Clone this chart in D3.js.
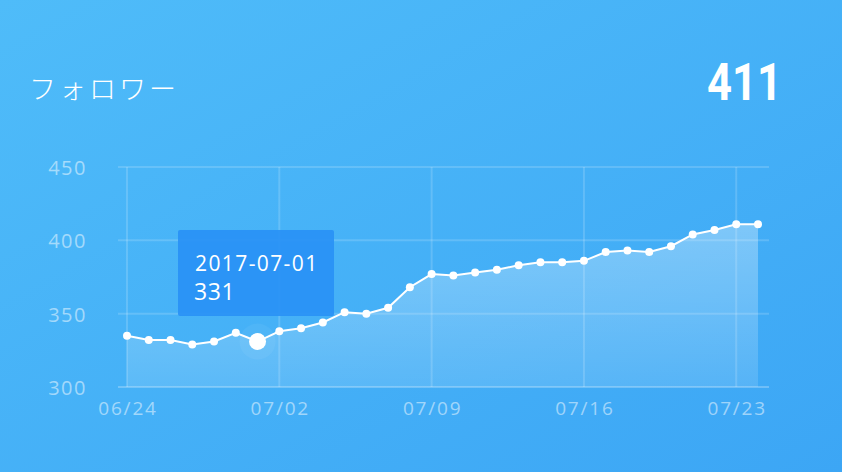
<!DOCTYPE html>
<html><head><meta charset="utf-8">
<script src="https://cdn.jsdelivr.net/npm/d3@7"></script>
<style>html,body{margin:0;padding:0;overflow:hidden;}svg{display:block;}</style>
</head><body>
<script>
const dates = ["2017-06-25","2017-06-26","2017-06-27","2017-06-28","2017-06-29","2017-06-30","2017-07-01","2017-07-02","2017-07-03","2017-07-04","2017-07-05","2017-07-06","2017-07-07","2017-07-08","2017-07-09","2017-07-10","2017-07-11","2017-07-12","2017-07-13","2017-07-14","2017-07-15","2017-07-16","2017-07-17","2017-07-18","2017-07-19","2017-07-20","2017-07-21","2017-07-22","2017-07-23","2017-07-24"];
const followers = [335,332,332,329,331,337,331,338,340,344,351,350,354,368,377,376,378,380,383,385,385,386,392,393,392,396,404,407,411,411];
const xTickIndex = [0,7,14,21,28];
const xTickLabels = ["06/24","07/02","07/09","07/16","07/23"];
const yTicks = [300,350,400,450];
const title = "フォロワー";
const total = "411";
const tooltipIndex = 6;

const W = 842, H = 472;
const svg = d3.select("body").append("svg").attr("width", W).attr("height", H);
const defs = svg.append("defs");
const bg = defs.append("linearGradient").attr("id","bg").attr("x1","0").attr("y1","0").attr("x2","1").attr("y2","1");
bg.append("stop").attr("offset","0").attr("stop-color","#4fbcf9");
bg.append("stop").attr("offset","1").attr("stop-color","#3ca6f5");
const ag = defs.append("linearGradient").attr("id","area").attr("x1","0").attr("y1","0").attr("x2","0").attr("y2","1");
ag.append("stop").attr("offset","0").attr("stop-color","#fff").attr("stop-opacity",0.32);
ag.append("stop").attr("offset","1").attr("stop-color","#fff").attr("stop-opacity",0.12);
svg.append("rect").attr("width",W).attr("height",H).attr("fill","url(#bg)");

const x = d3.scaleLinear().domain([0, followers.length-1]).range([127, 758]);
const y = d3.scaleLinear().domain([300, 450]).range([387, 167]);
const gridCol = "rgba(255,255,255,0.16)";
const labelFont = "'Open Sans', 'Noto Sans', sans-serif";

svg.append("g").selectAll("line").data(yTicks).join("line")
  .attr("x1",118).attr("x2",769).attr("y1",d=>y(d)).attr("y2",d=>y(d))
  .attr("stroke", d=> d===300 ? "rgba(255,255,255,0.25)" : gridCol).attr("stroke-width",2);
svg.append("g").selectAll("line").data(xTickIndex).join("line")
  .attr("x1",d=>x(d)).attr("x2",d=>x(d)).attr("y1",167).attr("y2",387)
  .attr("stroke",gridCol).attr("stroke-width",2);

svg.append("g").selectAll("text").data(yTicks).join("text")
  .attr("x",87).attr("y",d=>y(d)+8).attr("text-anchor","end")
  .attr("font-family",labelFont).attr("font-size",20).attr("letter-spacing",1.5)
  .attr("fill","rgba(255,255,255,0.5)").text(d=>d);
svg.append("g").selectAll("text").data(xTickIndex).join("text")
  .attr("x",d=>x(d)+1).attr("y",415).attr("text-anchor","middle")
  .attr("font-family",labelFont).attr("font-size",19).attr("letter-spacing",1.8)
  .attr("fill","rgba(255,255,255,0.5)").text((d,i)=>xTickLabels[i]);

const area = d3.area().x((d,i)=>x(i)).y0(y(300)).y1(d=>y(d));
svg.append("path").datum(followers).attr("d",area).attr("fill","url(#area)");
const line = d3.line().x((d,i)=>x(i)).y(d=>y(d));
svg.append("path").datum(followers).attr("d",line).attr("fill","none").attr("stroke","#fff").attr("stroke-width",2);

svg.append("circle").attr("cx",x(tooltipIndex)).attr("cy",y(followers[tooltipIndex])).attr("r",18).attr("fill","rgba(255,255,255,0.05)");
svg.append("g").selectAll("circle").data(followers).join("circle")
  .attr("cx",(d,i)=>x(i)).attr("cy",d=>y(d)).attr("r",(d,i)=> i===tooltipIndex ? 8.5 : 4)
  .attr("fill","#fff");

const tt = svg.append("g");
tt.append("rect").attr("x",178).attr("y",230).attr("width",156).attr("height",86).attr("rx",2)
  .attr("fill","#2a92f5").attr("fill-opacity",0.95);
tt.append("text").attr("x",195).attr("y",271).attr("font-family",labelFont)
  .attr("font-size",21).attr("letter-spacing",1.4).attr("fill","#fff").text(dates[tooltipIndex]);
tt.append("text").attr("x",194).attr("y",300).attr("font-family",labelFont)
  .attr("font-size",23).attr("letter-spacing",0.6).attr("fill","#fff").text(followers[tooltipIndex]);

svg.append("text").attr("x",29).attr("y",99).attr("font-family","'Noto Sans CJK JP', sans-serif")
  .attr("font-weight",300).attr("font-size",27).attr("letter-spacing",3).attr("fill","#fff").text(title);
svg.append("text").attr("x",782).attr("y",100).attr("text-anchor","end")
  .attr("font-family","Roboto, 'Noto Sans', sans-serif").attr("font-weight",700)
  .attr("font-size",51).attr("fill","#fff").attr("textLength",75).attr("lengthAdjust","spacingAndGlyphs").text(total);
</script>
</body></html>
